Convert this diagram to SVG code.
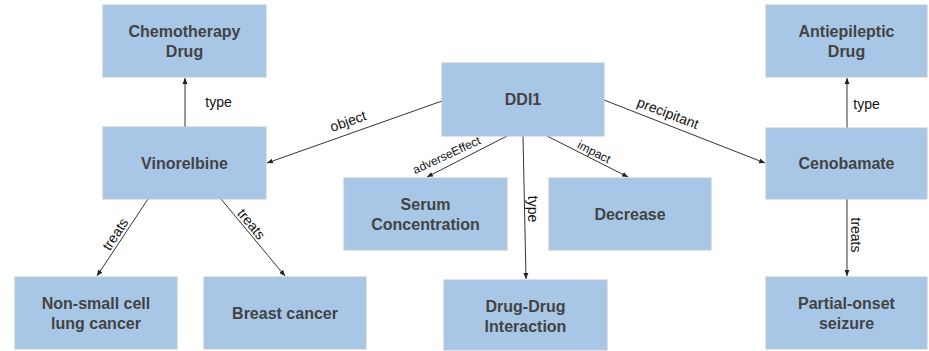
<svg xmlns="http://www.w3.org/2000/svg" width="929" height="351" viewBox="0 0 929 351">
<style>
.box{fill:#a8c7e7;stroke:#bcc7d2;stroke-width:1}
.nt{font-family:"Liberation Sans",Arial,sans-serif;font-weight:bold;font-size:16px;fill:#434343;text-anchor:middle}
.edge{stroke:#333;stroke-width:1;fill:none;marker-end:url(#arr)}
.lbl{font-family:"Liberation Sans",Arial,sans-serif;font-size:14px;fill:#111;text-anchor:middle}
.sm{font-size:12px}
</style>
<defs>
<marker id="arr" markerWidth="6" markerHeight="6" refX="6" refY="3" orient="auto" markerUnits="userSpaceOnUse">
<path d="M0,0.5 L6,3 L0,5.5 Z" fill="#222"/>
</marker>
</defs>
<rect width="929" height="351" fill="#fff"/>
<g id="connectors">
<line class="edge" x1="185" y1="127" x2="185" y2="78"/>
<line class="edge" x1="442" y1="101" x2="267" y2="163"/>
<line class="edge" x1="507" y1="136" x2="427" y2="177"/>
<line class="edge" x1="523" y1="136" x2="526" y2="279"/>
<line class="edge" x1="547" y1="136" x2="628" y2="177"/>
<line class="edge" x1="604" y1="100" x2="765" y2="163"/>
<line class="edge" x1="847" y1="128" x2="847" y2="78"/>
<line class="edge" x1="847" y1="199" x2="847" y2="276"/>
<line class="edge" x1="148" y1="199" x2="97" y2="276"/>
<line class="edge" x1="221" y1="199" x2="285" y2="276"/>
<text class="lbl" x="218.5" y="107">type</text>
<text class="lbl" transform="translate(348,121) rotate(-19.4)" y="5">object</text>
<text class="lbl sm" transform="translate(447,156) rotate(-25)" y="3">adverseEffect</text>
<text class="lbl" transform="translate(533,209) rotate(90)" y="5">type</text>
<text class="lbl sm" transform="translate(594,152) rotate(27)" y="4">impact</text>
<text class="lbl" transform="translate(668,113) rotate(21)" y="5">precipitant</text>
<text class="lbl" x="866.5" y="109">type</text>
<text class="lbl" transform="translate(856,235) rotate(90)" y="5">treats</text>
<text class="lbl" transform="translate(121.8,238.5) rotate(-56.5)" y="-3">treats</text>
<text class="lbl" transform="translate(245.7,228.8) rotate(50.3)" y="-2.5">treats</text>
</g>
<g id="chemo"><rect class="box" x="103" y="5" width="163" height="72"/><text class="nt" x="184.5" y="37">Chemotherapy</text><text class="nt" x="184.5" y="57">Drug</text></g>
<g id="vinorelbine"><rect class="box" x="103" y="127" width="163" height="72"/><text class="nt" x="184.5" y="169">Vinorelbine</text></g>
<g id="nsclc"><rect class="box" x="15" y="277" width="162" height="72"/><text class="nt" x="96" y="309">Non-small cell</text><text class="nt" x="96" y="329">lung cancer</text></g>
<g id="breast"><rect class="box" x="204" y="277" width="162" height="72"/><text class="nt" x="285" y="319">Breast cancer</text></g>
<g id="ddi1"><rect class="box" x="442" y="63" width="162" height="73"/><text class="nt" x="523" y="105">DDI1</text></g>
<g id="serum"><rect class="box" x="344" y="178" width="163" height="72"/><text class="nt" x="425.5" y="210">Serum</text><text class="nt" x="425.5" y="230">Concentration</text></g>
<g id="decrease"><rect class="box" x="549" y="178" width="162" height="72"/><text class="nt" x="630" y="220">Decrease</text></g>
<g id="ddi"><rect class="box" x="444" y="280" width="163" height="70"/><text class="nt" x="525.5" y="312">Drug-Drug</text><text class="nt" x="525.5" y="332">Interaction</text></g>
<g id="antiepileptic"><rect class="box" x="766" y="5" width="161" height="72"/><text class="nt" x="846.5" y="37">Antiepileptic</text><text class="nt" x="846.5" y="57">Drug</text></g>
<g id="cenobamate"><rect class="box" x="766" y="128" width="161" height="71"/><text class="nt" x="846.5" y="169">Cenobamate</text></g>
<g id="seizure"><rect class="box" x="766" y="277" width="161" height="72"/><text class="nt" x="846.5" y="309">Partial-onset</text><text class="nt" x="846.5" y="329">seizure</text></g>
</svg>
